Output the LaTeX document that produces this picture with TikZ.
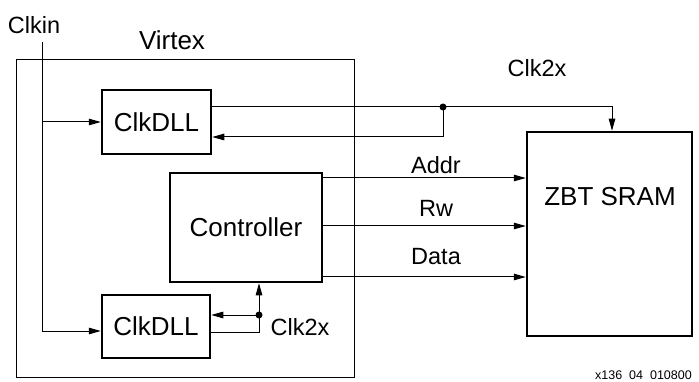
\documentclass[tikz,border=0pt]{standalone}
\usepackage{fontspec}
\setmainfont{Liberation Sans}
\usetikzlibrary{arrows.meta}
\begin{document}
\begin{tikzpicture}[x=1pt,y=-1pt,>={Triangle[length=12pt,width=6.5pt]}]
% Estilos
\tikzstyle{block} = [rectangle, draw, line width=2.5pt, font=\fontsize{26}{30}\selectfont]
\tikzstyle{signal} = [font=\fontsize{23.5}{27}\selectfont]
\tikzstyle{wire} = [line width=1pt]
\useasboundingbox (0,0) rectangle (699,382);

% Chip Virtex
\node[rectangle, draw, line width=1pt, minimum width=338pt, minimum height=317pt] (virtex) at (185,218.5) {};
\node[block, draw=none] (virtexlbl) at (172,40) {Virtex};

% Bloques
\node[block, minimum width=109pt, minimum height=64pt] (dllA) at (156.5,122) {ClkDLL};
\node[block, minimum width=152pt, minimum height=109pt] (ctrl) at (246,227.5) {Controller};
\node[block, minimum width=108pt, minimum height=63pt] (dllB) at (156,326.5) {ClkDLL};
\node[block, minimum width=165pt, minimum height=204pt] (sram) at (609.5,234) {};
\node[block, draw=none] (sramtxt) at (610,197) {ZBT SRAM};

% Reloj de entrada
\node[signal] (clkin) at (34,25) {Clkin};
\coordinate (cin) at (42,42);
\draw[wire, ->] (cin) |- ([yshift=-4.5pt]dllB.west);
\draw[wire, ->] (cin |- dllA.west) -- (dllA.west);

% Clk2x hacia la SRAM
\coordinate (j1) at (443,107);
\draw[wire, ->] ([yshift=15pt]dllA.east) -| ([xshift=2.5pt]sram.north);
\draw[wire, ->] (j1) |- ([yshift=-15pt]dllA.east);
\fill (j1) circle (3.5pt);
\node[signal] (clkA) at (537,68) {Clk2x};

% Clk2x hacia el controlador
\coordinate (j2) at (259,315);
\draw[wire, ->] ([yshift=-5.5pt]dllB.east) -| (j2 |- ctrl.south);
\draw[wire, ->] (j2) -- (j2 -| dllB.east);
\fill (j2) circle (3.5pt);
\node[signal] (clkB) at (300,327) {Clk2x};

% Bus hacia la SRAM
\coordinate (addr) at ([yshift=49.5pt]ctrl.east);
\coordinate (rw) at ([yshift=1.5pt]ctrl.east);
\coordinate (data) at ([yshift=-49.5pt]ctrl.east);
\draw[wire, ->] (addr) -- (addr -| sram.west);
\draw[wire, ->] (rw) -- (rw -| sram.west);
\draw[wire, ->] (data) -- (data -| sram.west);
\node[signal] (addrlbl) at (436,165) {Addr};
\node[signal] (rwlbl) at (436,208) {Rw};
\node[signal] (datalbl) at (436,257) {Data};

% Referencia
\node[anchor=west, inner sep=0pt, font=\fontsize{12.5}{14}\selectfont] (ref) at (595,375) {x136\ \ 04\ \ 010800};
\end{tikzpicture}
\end{document}
